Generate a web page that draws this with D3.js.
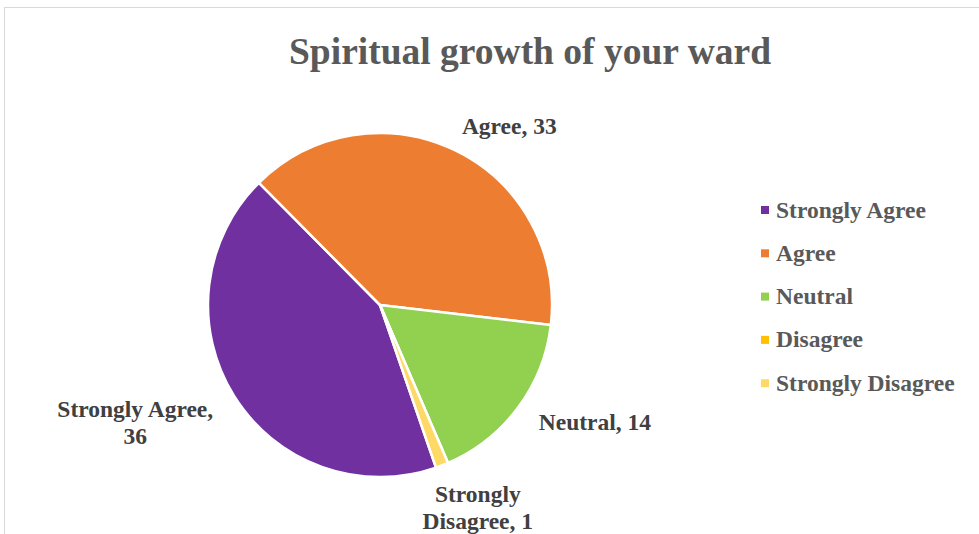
<!DOCTYPE html>
<html><head><meta charset="utf-8">
<script src="https://cdn.jsdelivr.net/npm/d3@7"></script>
<style>html,body{margin:0;padding:0;background:#fff;}svg{display:block;}</style>
</head><body>
<svg id="c" width="979" height="534"></svg>
<script>
const categories = ["Strongly Agree", "Agree", "Neutral", "Disagree", "Strongly Disagree"];
const values = [36, 33, 14, 0, 1];
const colors = ["#7030A0", "#ED7D31", "#92D050", "#FFC000", "#FFD966"];
const title = "Spiritual growth of your ward";

const svg = d3.select("#c");
const W = 979, H = 534;
svg.append("rect").attr("x", 4.5).attr("y", 7.5).attr("width", W).attr("height", H)
  .attr("fill", "#fff").attr("stroke", "#d9d9d9").attr("stroke-width", 1);

const serif = "'Liberation Serif', 'Times New Roman', serif";
svg.append("text").attr("x", 530).attr("y", 64).attr("text-anchor", "middle")
  .attr("font-family", serif).attr("font-weight", "bold")
  .attr("font-size", 37.5).attr("fill", "#595959").text(title);

const cx = 380, cy = 305, R = 172;
const startDeg = 161;
const pie = d3.pie().sort(null).value(d => d)
  .startAngle(startDeg * Math.PI / 180).endAngle((startDeg + 360) * Math.PI / 180);
const arcs = pie(values);
const arc = d3.arc().innerRadius(0).outerRadius(R);
const g = svg.append("g").attr("transform", `translate(${cx},${cy})`);
g.selectAll("path").data(arcs).join("path")
  .attr("d", arc).attr("fill", (d, i) => colors[i])
  .attr("stroke", "#fff").attr("stroke-width", 2.5).attr("stroke-linejoin", "round");

// data labels
const labelLines = [
  [categories[0] + ",", String(values[0])],
  [categories[1] + ", " + values[1]],
  [categories[2] + ", " + values[2]],
  null,
  ["Strongly", "Disagree, " + values[4]]
];
const labelPos = [
  {r: 272, da: 6},
  {r: 220, da: 10},
  {r: 245, da: -8},
  null,
  {r: 226, da: -4.5}
];
arcs.forEach((a, i) => {
  if (!labelLines[i] || a.value === 0) return;
  const mid = (a.startAngle + a.endAngle) / 2 + labelPos[i].da * Math.PI / 180;
  const x = Math.sin(mid) * labelPos[i].r, y = -Math.cos(mid) * labelPos[i].r;
  const lines = labelLines[i];
  const lh = 27;
  const t = g.append("text").attr("text-anchor", "middle")
    .attr("font-family", serif).attr("font-weight", "bold").attr("font-size", 23.5)
    .attr("fill", "#404040");
  lines.forEach((l, k) => {
    t.append("tspan").attr("x", x).attr("y", y + (k - (lines.length - 1) / 2) * lh + 7).text(l);
  });
});

// legend
const lg = svg.append("g").attr("transform", "translate(761,210)");
categories.forEach((c, i) => {
  const row = lg.append("g").attr("transform", `translate(0,${i * 43.3})`);
  row.append("rect").attr("x", 0).attr("y", -4).attr("width", 8).attr("height", 8).attr("fill", colors[i]);
  row.append("text").attr("x", 15).attr("y", 7.5).attr("font-family", serif)
    .attr("font-weight", "bold").attr("font-size", 23.5).attr("fill", "#595959").text(c);
});
</script>
</body></html>
